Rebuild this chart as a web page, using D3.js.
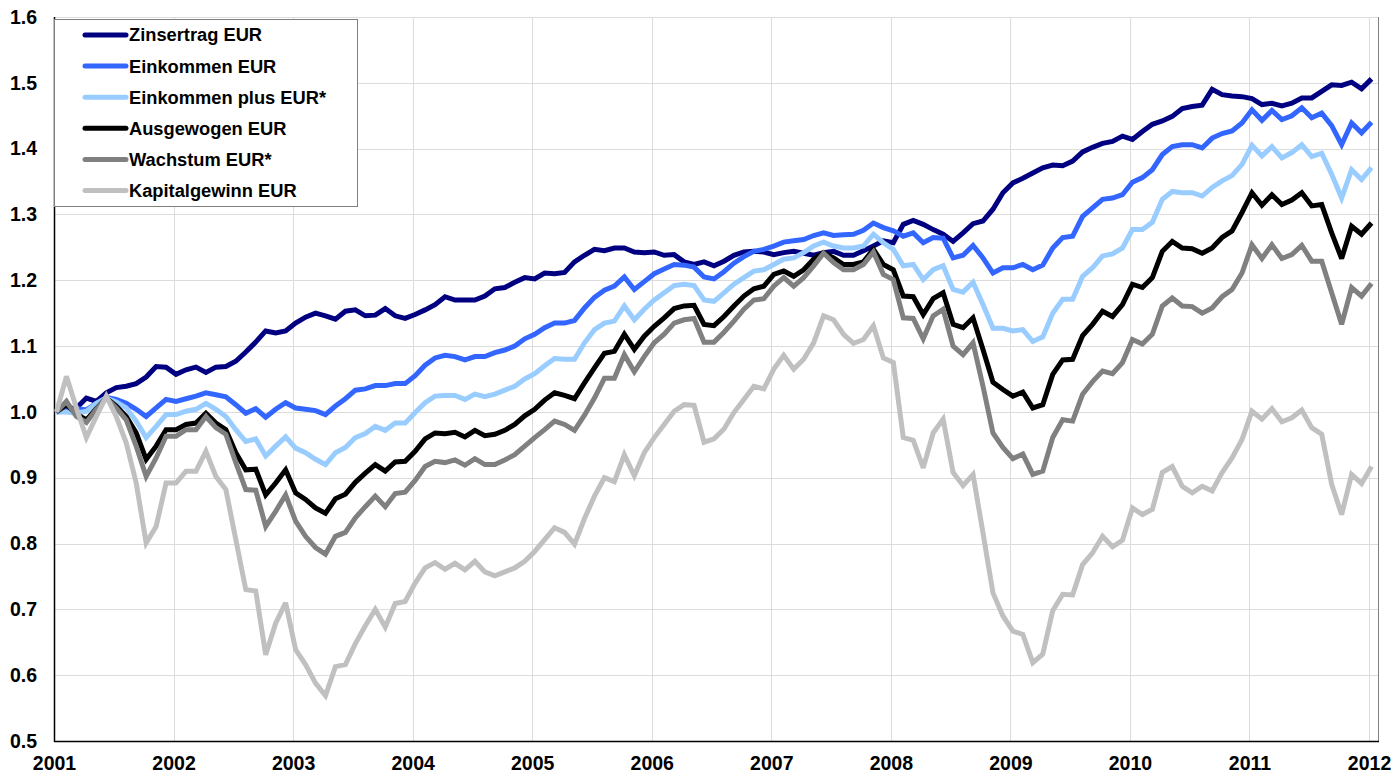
<!DOCTYPE html>
<html>
<head>
<meta charset="utf-8">
<script src="https://cdn.jsdelivr.net/npm/d3@7"></script>
<style>
  body { margin: 0; background: #fff; }
  svg { display: block; font-family: "Liberation Sans", Arial, sans-serif; }
</style>
</head>
<body>
<div id="chart"></div>
<script>
// monthly values, Jan 2001 .. Jan 2012 (index 0 = start, all rebased to 1.0)
const zinsertrag = [1.000,1.005,1.006,1.021,1.016,1.029,1.037,1.039,1.043,1.053,1.069,1.068,1.057,1.064,1.068,1.060,1.068,1.069,1.077,1.091,1.106,1.123,1.120,1.123,1.135,1.144,1.150,1.146,1.141,1.153,1.155,1.146,1.147,1.157,1.146,1.142,1.148,1.155,1.163,1.175,1.170,1.170,1.170,1.176,1.187,1.189,1.197,1.204,1.202,1.211,1.210,1.212,1.228,1.238,1.247,1.245,1.249,1.249,1.243,1.242,1.243,1.238,1.239,1.228,1.224,1.228,1.222,1.229,1.238,1.243,1.244,1.243,1.239,1.242,1.244,1.241,1.238,1.242,1.244,1.238,1.238,1.245,1.252,1.260,1.257,1.285,1.291,1.285,1.277,1.270,1.259,1.272,1.286,1.290,1.308,1.333,1.348,1.355,1.363,1.371,1.375,1.374,1.381,1.395,1.402,1.408,1.411,1.419,1.414,1.426,1.437,1.442,1.449,1.461,1.464,1.466,1.490,1.482,1.480,1.479,1.476,1.467,1.469,1.465,1.469,1.477,1.477,1.487,1.497,1.496,1.501,1.491,1.506];
const einkommen = [1.000,1.002,1.005,1.003,1.013,1.022,1.019,1.013,1.004,0.993,1.006,1.019,1.016,1.020,1.024,1.029,1.026,1.023,1.011,0.998,1.005,0.992,1.004,1.014,1.006,1.004,1.002,0.996,1.009,1.020,1.033,1.035,1.040,1.040,1.043,1.043,1.055,1.071,1.082,1.086,1.084,1.079,1.084,1.084,1.090,1.094,1.100,1.111,1.118,1.128,1.135,1.135,1.139,1.158,1.174,1.185,1.191,1.205,1.186,1.198,1.210,1.217,1.224,1.223,1.220,1.205,1.202,1.213,1.226,1.236,1.244,1.247,1.252,1.258,1.260,1.262,1.268,1.272,1.268,1.269,1.270,1.276,1.287,1.280,1.275,1.267,1.272,1.257,1.265,1.264,1.234,1.238,1.253,1.234,1.211,1.219,1.219,1.224,1.216,1.223,1.249,1.265,1.267,1.297,1.310,1.323,1.325,1.330,1.349,1.356,1.368,1.391,1.403,1.406,1.406,1.401,1.416,1.423,1.427,1.439,1.459,1.443,1.458,1.444,1.450,1.462,1.447,1.454,1.435,1.406,1.439,1.424,1.440];
const einkommenPlus = [1.000,1.000,0.998,1.001,1.013,1.021,1.015,1.006,0.986,0.961,0.978,0.996,0.996,1.001,1.004,1.013,1.004,0.993,0.973,0.955,0.959,0.933,0.948,0.962,0.945,0.938,0.928,0.920,0.938,0.946,0.961,0.967,0.978,0.972,0.983,0.983,0.999,1.014,1.024,1.025,1.025,1.019,1.027,1.023,1.027,1.033,1.039,1.050,1.058,1.070,1.081,1.080,1.080,1.105,1.125,1.135,1.138,1.161,1.140,1.156,1.170,1.181,1.192,1.194,1.192,1.170,1.168,1.181,1.194,1.204,1.214,1.216,1.224,1.232,1.234,1.242,1.252,1.258,1.252,1.249,1.249,1.252,1.270,1.257,1.247,1.222,1.224,1.201,1.216,1.222,1.186,1.182,1.197,1.163,1.127,1.127,1.123,1.125,1.107,1.114,1.150,1.171,1.171,1.206,1.219,1.237,1.240,1.249,1.277,1.277,1.288,1.323,1.335,1.333,1.333,1.328,1.341,1.351,1.359,1.376,1.405,1.389,1.403,1.386,1.394,1.406,1.388,1.393,1.361,1.325,1.368,1.353,1.371];
const ausgewogen = [1.000,1.011,0.997,0.988,1.005,1.021,1.009,0.993,0.968,0.928,0.948,0.973,0.973,0.981,0.983,0.998,0.983,0.973,0.938,0.912,0.913,0.874,0.892,0.912,0.877,0.867,0.854,0.846,0.868,0.875,0.893,0.907,0.920,0.910,0.924,0.925,0.940,0.959,0.968,0.967,0.969,0.962,0.972,0.964,0.966,0.972,0.981,0.994,1.004,1.018,1.029,1.025,1.020,1.044,1.067,1.089,1.092,1.118,1.095,1.115,1.130,1.143,1.157,1.161,1.162,1.133,1.131,1.145,1.161,1.176,1.187,1.191,1.209,1.214,1.206,1.216,1.232,1.242,1.234,1.224,1.224,1.228,1.247,1.224,1.216,1.176,1.175,1.148,1.172,1.181,1.133,1.128,1.143,1.095,1.045,1.034,1.024,1.030,1.006,1.011,1.057,1.079,1.080,1.116,1.133,1.153,1.145,1.163,1.194,1.189,1.204,1.244,1.259,1.249,1.248,1.241,1.249,1.265,1.275,1.303,1.333,1.314,1.330,1.315,1.322,1.333,1.313,1.315,1.272,1.233,1.282,1.270,1.287];
const wachstum = [1.000,1.016,0.993,0.984,1.004,1.021,1.006,0.988,0.948,0.902,0.930,0.963,0.963,0.973,0.973,0.993,0.976,0.966,0.923,0.882,0.881,0.826,0.849,0.874,0.834,0.811,0.794,0.784,0.811,0.817,0.839,0.856,0.872,0.856,0.876,0.878,0.896,0.917,0.925,0.923,0.927,0.919,0.929,0.920,0.920,0.927,0.935,0.948,0.961,0.973,0.986,0.981,0.972,0.995,1.021,1.051,1.051,1.087,1.061,1.084,1.105,1.118,1.135,1.140,1.142,1.106,1.106,1.121,1.138,1.156,1.170,1.172,1.191,1.204,1.191,1.204,1.222,1.241,1.227,1.216,1.216,1.224,1.243,1.209,1.201,1.143,1.142,1.111,1.146,1.156,1.100,1.087,1.105,1.039,0.968,0.946,0.929,0.936,0.905,0.910,0.961,0.988,0.986,1.027,1.046,1.062,1.058,1.075,1.110,1.103,1.118,1.161,1.173,1.161,1.160,1.150,1.158,1.175,1.186,1.211,1.254,1.233,1.254,1.233,1.239,1.253,1.229,1.229,1.181,1.133,1.189,1.176,1.195];
const kapitalgewinn = [1.000,1.054,1.006,0.961,0.993,1.024,0.993,0.953,0.892,0.801,0.826,0.892,0.892,0.910,0.910,0.940,0.902,0.882,0.806,0.730,0.728,0.631,0.679,0.710,0.639,0.616,0.588,0.569,0.613,0.616,0.648,0.675,0.700,0.673,0.709,0.712,0.740,0.763,0.771,0.761,0.770,0.760,0.773,0.757,0.751,0.757,0.763,0.773,0.788,0.806,0.824,0.817,0.799,0.838,0.872,0.900,0.894,0.935,0.903,0.938,0.961,0.981,1.001,1.011,1.010,0.954,0.959,0.974,0.999,1.019,1.039,1.035,1.065,1.086,1.065,1.080,1.105,1.146,1.140,1.118,1.104,1.110,1.131,1.082,1.075,0.961,0.957,0.915,0.968,0.989,0.908,0.888,0.905,0.816,0.725,0.690,0.667,0.662,0.619,0.632,0.698,0.723,0.722,0.768,0.786,0.811,0.795,0.805,0.854,0.844,0.852,0.908,0.917,0.887,0.877,0.887,0.880,0.908,0.930,0.958,1.001,0.989,1.005,0.985,0.991,1.003,0.976,0.966,0.890,0.844,0.905,0.891,0.917];

const seriesNames = ["Zinsertrag EUR", "Einkommen EUR", "Einkommen plus EUR*", "Ausgewogen EUR", "Wachstum EUR*", "Kapitalgewinn EUR"];
const seriesColors = ["#000080", "#3366ff", "#99ccff", "#000000", "#808080", "#c0c0c0"];
const seriesValues = [zinsertrag, einkommen, einkommenPlus, ausgewogen, wachstum, kapitalgewinn];

const yearTicks = d3.range(2001, 2013);
const valueTicks = d3.range(5, 17).map(d => d / 10);

const width = 1398, height = 773;
const plotLeft = 54, plotRight = 1378, plotTop = 17, plotBottom = 741;

const svg = d3.select("#chart").append("svg")
    .attr("width", width)
    .attr("height", height);

const x = d3.scaleLinear().domain([2001, 2012.075]).range([plotLeft, plotRight]);
const y = d3.scaleLinear().domain([0.5, 1.6]).range([plotBottom, plotTop]);

// month i sits a little after the start of that month
const monthX = i => x(2001 + (i + 0.25) / 12);

// grid
svg.append("g")
  .selectAll("line")
  .data(valueTicks)
  .join("line")
    .attr("x1", plotLeft).attr("x2", plotRight)
    .attr("y1", d => Math.round(y(d)) + 0.5)
    .attr("y2", d => Math.round(y(d)) + 0.5)
    .attr("stroke", "#dcdcdc");

svg.append("g")
  .selectAll("line")
  .data(yearTicks.slice(1))
  .join("line")
    .attr("x1", d => Math.round(x(d)) + 0.5)
    .attr("x2", d => Math.round(x(d)) + 0.5)
    .attr("y1", plotTop).attr("y2", plotBottom)
    .attr("stroke", "#dcdcdc");

// right frame
svg.append("line")
    .attr("x1", plotRight + 0.5).attr("x2", plotRight + 0.5)
    .attr("y1", plotTop).attr("y2", plotBottom)
    .attr("stroke", "#808080");

// axes
const yAxis = svg.append("g")
    .attr("transform", `translate(${plotLeft},0)`)
    .call(d3.axisLeft(y).tickValues(valueTicks).tickFormat(d3.format(".1f")).tickSize(0).tickPadding(17));
const xAxis = svg.append("g")
    .attr("transform", `translate(0,${plotBottom})`)
    .call(d3.axisBottom(x).tickValues(yearTicks).tickFormat(d3.format("d")).tickSize(0).tickPadding(15));

[yAxis, xAxis].forEach(g => {
  g.select(".domain").remove();
  g.selectAll("text")
    .attr("fill", "#000")
    .style("font-size", "19.5px")
    .style("font-weight", "bold")
    .style("font-family", "'Liberation Sans', Arial, sans-serif");
});

svg.append("line")
    .attr("x1", plotLeft + 0.5).attr("x2", plotLeft + 0.5)
    .attr("y1", plotTop).attr("y2", plotBottom + 1)
    .attr("stroke", "#000").attr("stroke-width", 1.5);
svg.append("line")
    .attr("x1", plotLeft).attr("x2", plotRight + 1)
    .attr("y1", plotBottom + 0.5).attr("y2", plotBottom + 0.5)
    .attr("stroke", "#000").attr("stroke-width", 1.5);

// lines
const line = d3.line()
    .x((d, i) => monthX(i))
    .y(d => y(d));

svg.append("g")
  .selectAll("path")
  .data(seriesValues)
  .join("path")
    .attr("d", line)
    .attr("fill", "none")
    .attr("stroke", (d, i) => seriesColors[i])
    .attr("stroke-width", 5)
    .attr("stroke-linejoin", "miter")
    .attr("stroke-miterlimit", 3);

// legend
const legend = svg.append("g");
legend.append("rect")
    .attr("x", plotLeft + 0.5).attr("y", 19.5)
    .attr("width", 303).attr("height", 187)
    .attr("fill", "#fff")
    .attr("stroke", "#808080");

const item = legend.selectAll("g.item")
  .data(seriesNames)
  .join("g")
    .attr("class", "item")
    .attr("transform", (d, i) => `translate(0,${35 + i * 31.1})`);

item.append("line")
    .attr("x1", 85).attr("x2", 126)
    .attr("stroke", (d, i) => seriesColors[i])
    .attr("stroke-width", 5)
    .attr("stroke-linecap", "round");

item.append("text")
    .attr("x", 129)
    .attr("dy", "0.35em")
    .style("font-size", "18.3px")
    .style("font-weight", "bold")
    .text(d => d);
</script>
</body>
</html>
